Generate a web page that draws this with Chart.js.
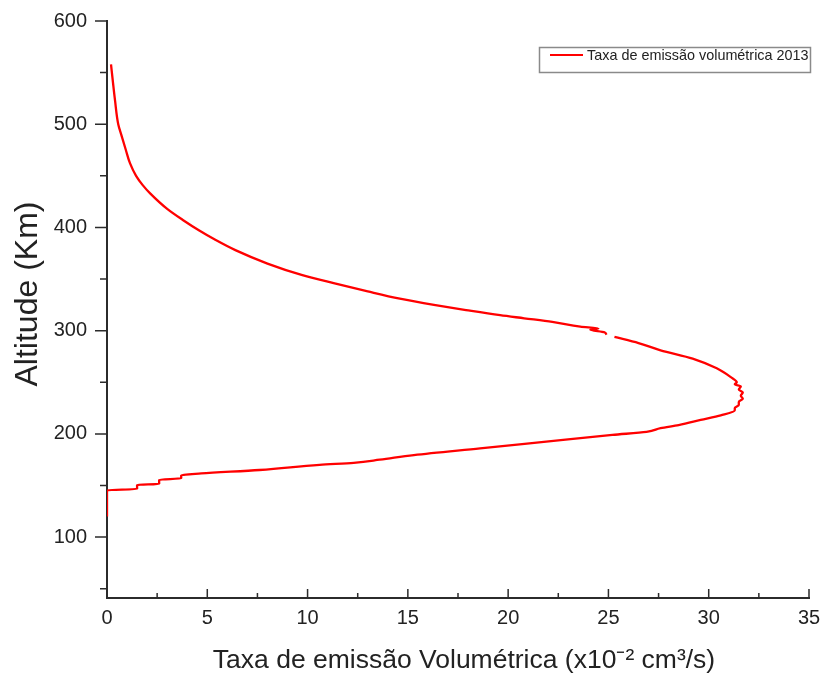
<!DOCTYPE html>
<html>
<head>
<meta charset="utf-8">
<script src="https://cdn.jsdelivr.net/npm/chart.js@4.4.1/dist/chart.umd.min.js"></script>
<style>
  body { margin: 0; background: #fff; }
  canvas { display: block; }
</style>
</head>
<body>
<canvas id="perfil" width="834" height="679"></canvas>
<script>
// altitude (km) and volume emission rate (x10^-2 cm3/s), top to bottom
const altitude = [
  558, 540, 523, 500, 488, 475, 462, 450, 441, 433,
  418, 407, 397, 388, 378, 365, 354, 346, 338, 331,
  325, 320, 315, 312, 308.5, 304, 302, 301, 298.5, 296,
  null, 294, 288, 281, 273, 263.5, 255, 250, 248, 246,
  243, 240, 237, 234, 231, 228, 225, 223, 218, 213.5,
  208.5, 205.5, 202, 199, 192.5, 186, 179.5, 175, 172, 170,
  165, 161.7, 160, 157, 155.5, 151.5, 150.5, 146.5, 145.5, 120
];
const rate = [
  0.2, 0.3, 0.4, 0.56, 0.74, 0.94, 1.15, 1.45, 1.78, 2.15,
  3.0, 3.8, 4.6, 5.4, 6.4, 8.0, 9.7, 11.3, 13.0, 14.6,
  16.3, 17.9, 19.6, 20.8, 22.2, 23.6, 24.5, 24.1, 24.8, 24.9,
  null, 25.3, 26.5, 27.6, 29.2, 30.4, 31.1, 31.4, 31.3, 31.6,
  31.5, 31.7, 31.6, 31.7, 31.5, 31.5, 31.3, 31.3, 30.6, 29.6,
  28.5, 27.6, 26.9, 25.2, 21.9, 18.6, 15.3, 13.6, 12.3, 10.6,
  7.6, 4.7, 3.7, 3.7, 2.6, 2.6, 1.5, 1.5, 0, 0
];
const seriesLabel = 'Taxa de emissão volumétrica 2013';
const xTitle = 'Taxa de emissão Volumétrica (x10⁻² cm³/s)';
const yTitle = 'Altitude (Km)';
const xTicks = [0, 5, 10, 15, 20, 25, 30, 35];
const yTicks = [100, 200, 300, 400, 500, 600];

const axisColor = '#2b2b2b';
const fontFamily = '"Liberation Sans", Arial, sans-serif';
Chart.defaults.font.family = fontFamily;
Chart.defaults.color = '#222';

// minor ticks halfway between the major ones
function halfSteps(list, extraBelow) {
  var out = [];
  for (var i = 0; i < list.length - 1; i++) out.push((list[i] + list[i + 1]) / 2);
  if (extraBelow) out.unshift(list[0] - (list[1] - list[0]) / 2);
  return out;
}

// Origin style tick marks: x ticks point up into the plot, y ticks point out
const tickMarks = {
  id: 'tickMarks',
  afterDraw(chart) {
    const ctx = chart.ctx;
    const area = chart.chartArea;
    const x = chart.scales.x, y = chart.scales.y;
    ctx.save();
    ctx.strokeStyle = axisColor;
    ctx.lineWidth = 1.5;
    ctx.beginPath();
    xTicks.forEach(function(v) {
      var px = x.getPixelForValue(v);
      ctx.moveTo(px, area.bottom); ctx.lineTo(px, area.bottom - 9);
    });
    halfSteps(xTicks).forEach(function(v) {
      var px = x.getPixelForValue(v);
      ctx.moveTo(px, area.bottom); ctx.lineTo(px, area.bottom - 5);
    });
    yTicks.forEach(function(v) {
      var py = y.getPixelForValue(v);
      ctx.moveTo(area.left, py); ctx.lineTo(area.left - 12, py);
    });
    halfSteps(yTicks, true).forEach(function(v) {
      var py = y.getPixelForValue(v);
      ctx.moveTo(area.left, py); ctx.lineTo(area.left - 7, py);
    });
    ctx.stroke();
    ctx.restore();
  }
};

// axis titles, placed a little off centre like in the original figure
const axisTitles = {
  id: 'axisTitles',
  afterDraw(chart) {
    const ctx = chart.ctx;
    ctx.save();
    ctx.fillStyle = '#222';
    ctx.textAlign = 'center';
    ctx.textBaseline = 'middle';
    ctx.font = '26.5px ' + fontFamily;
    ctx.fillText(xTitle, 464, 661);
    ctx.translate(28, 294);
    ctx.rotate(-Math.PI / 2);
    ctx.font = '32px ' + fontFamily;
    ctx.fillText(yTitle, 0, 0);
    ctx.restore();
  }
};

// small boxed legend in the upper right corner
const boxLegend = {
  id: 'boxLegend',
  afterDraw(chart) {
    const ctx = chart.ctx;
    const ds = chart.data.datasets[0];
    ctx.save();
    ctx.strokeStyle = '#8a8a8a';
    ctx.lineWidth = 1.5;
    ctx.strokeRect(539.5, 47.5, 271, 25);
    ctx.strokeStyle = ds.borderColor;
    ctx.lineWidth = 2;
    ctx.beginPath();
    ctx.moveTo(550, 55); ctx.lineTo(583, 55);
    ctx.stroke();
    ctx.fillStyle = '#222';
    ctx.font = '14.4px ' + fontFamily;
    ctx.textBaseline = 'alphabetic';
    ctx.fillText(ds.label, 587, 60, 222);
    ctx.restore();
  }
};

const points = altitude.map(function(a, i) {
  return rate[i] === null ? { x: null, y: null } : { x: rate[i], y: a };
});

new Chart(document.getElementById('perfil'), {
  type: 'scatter',
  data: {
    datasets: [{
      label: seriesLabel,
      data: points,
      showLine: true,
      spanGaps: false,
      indexAxis: 'y',
      cubicInterpolationMode: 'monotone',
      borderColor: '#ff0000',
      backgroundColor: '#ff0000',
      borderWidth: 2.3,
      pointRadius: 0
    }]
  },
  options: {
    responsive: false,
    animation: false,
    layout: { padding: { top: 21, right: 25, left: 0, bottom: 0 } },
    plugins: {
      legend: { display: false },
      tooltip: { enabled: false }
    },
    scales: {
      x: {
        type: 'linear',
        min: 0,
        max: 35,
        afterBuildTicks: function(scale) { scale.ticks = xTicks.map(function(v) { return { value: v }; }); },
        afterFit: function(scale) { scale.height = 81; },
        grid: { display: false, drawTicks: false },
        border: { display: true, color: axisColor, width: 2 },
        ticks: { font: { size: 20 }, padding: 8, maxRotation: 0 }
      },
      y: {
        type: 'linear',
        min: 41,
        max: 600,
        afterBuildTicks: function(scale) { scale.ticks = yTicks.map(function(v) { return { value: v }; }); },
        afterFit: function(scale) { scale.width = 107; },
        // tick marks are drawn by the plugin, tickLength only spaces the labels
        grid: { display: false, drawTicks: true, tickLength: 12 },
        border: { display: true, color: axisColor, width: 2 },
        ticks: { font: { size: 20 }, padding: 8 }
      }
    }
  },
  plugins: [tickMarks, axisTitles, boxLegend]
});
</script>
</body>
</html>
